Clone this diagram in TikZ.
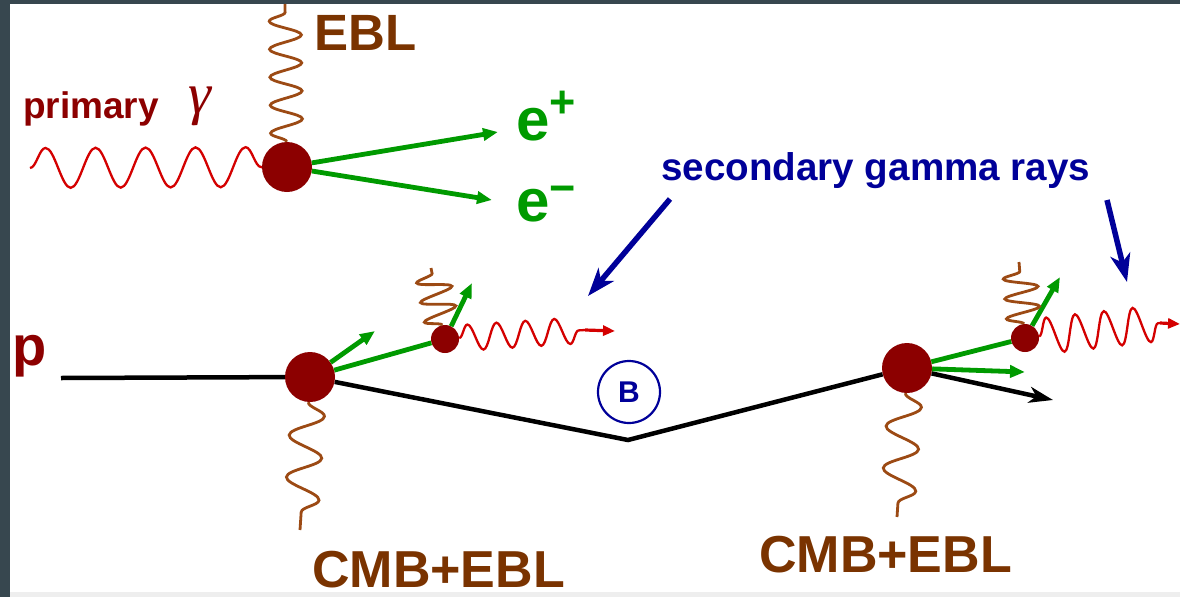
\documentclass[tikz,border=0pt]{standalone}
\usepackage{fontspec}
\setmainfont{Liberation Sans}
\newfontfamily\serifgreek{Liberation Serif}
\usetikzlibrary{decorations.pathmorphing,arrows.meta}

\definecolor{vred}{HTML}{8C0000}
\definecolor{wred}{HTML}{D40000}
\definecolor{wbrown}{HTML}{9C4A14}
\definecolor{lbrown}{HTML}{7A3300}
\definecolor{pgreen}{HTML}{009A00}
\definecolor{pblue}{HTML}{000099}
\definecolor{lred}{HTML}{8C0000}
\definecolor{framec}{HTML}{37474F}
\definecolor{stripc}{HTML}{EEEEEE}

\newcommand{\setfs}[1]{\fontsize{#1}{#1}\selectfont}

\begin{document}
\begin{tikzpicture}[x=1pt,y=-1pt,
  vtx/.style={circle,fill=vred,inner sep=0pt,minimum size=50pt},
  svtx/.style={circle,fill=vred,inner sep=0pt,minimum size=28pt},
  gline/.style={draw=pgreen,line width=4.8pt},
  garrow/.style={gline,-{Triangle[length=15pt,width=12pt]}},
  kline/.style={draw=black,line width=4.5pt},
  karrow/.style={kline,-{Stealth[length=24pt,width=16pt,inset=7pt]}},
  barrow/.style={draw=pblue,line width=5.5pt,-{Stealth[length=28pt,width=20pt,inset=8pt]}},
  rarrow/.style={draw=wred,line width=3.2pt,-{Triangle[length=12pt,width=10pt]}},
  wigred/.style={draw=wred,line width=2.3pt,decorate,decoration={snake,segment length=#1,amplitude=18pt}},
  wigbrown/.style={draw=wbrown,line width=2.8pt,decorate,decoration={snake,segment length=#1,amplitude=17pt}},
  lbl/.style={inner sep=0pt,anchor=base west,font=\bfseries}
]
\fill[framec] (0,0) rectangle (1180,597);
\fill[white] (10,4) rectangle (1180,592);
\fill[stripc] (10,592) rectangle (1180,597);
\useasboundingbox (0,0) rectangle (1180,597);

% vertices
\node[vtx] (v1) at (287,167) {};
\node[vtx] (v2) at (310,377) {};
\node[vtx] (v3) at (907,368) {};
\node[svtx] (s1) at (445,339) {};
\node[svtx] (s2) at (1025,338) {};

% free ends
\coordinate (gstart) at (30,168);
\coordinate (eblend) at (285,4);
\coordinate (epos) at (498,132);
\coordinate (eneg) at (492,200);
\coordinate (pstart) at (61,378);
\coordinate (bend) at (628,440);
\coordinate (kend) at (1053,400);
\coordinate (c2end) at (300,530);
\coordinate (c3end) at (897,517);
\coordinate (g2a) at (375,331);
\coordinate (g1up) at (472,283);
\coordinate (b1top) at (431,268);
\coordinate (r1a) at (585,330);
\coordinate (r1b) at (615,331);
\coordinate (g3h) at (1025,372);
\coordinate (g2up) at (1060,277);
\coordinate (b2top) at (1019,262);
\coordinate (r2a) at (1160,323);
\coordinate (r2b) at (1180,324);
\coordinate (bl1s) at (670,199);
\coordinate (bl1e) at (588,296);
\coordinate (bl2s) at (1107,200);
\coordinate (bl2e) at (1127,282);

% primary gamma + EBL
\draw[wigred=50pt,decoration={amplitude=20pt}] (gstart) -- (v1);
\draw[wigbrown=28pt,decoration={amplitude=16pt}] (v1) -- (eblend);
\draw[garrow] (v1) -- (epos);
\draw[garrow] (v1) -- (eneg);

% proton line
\draw[kline] (pstart) -- (v2);
\draw[kline] (v2) -- (bend) -- (v3);
\draw[karrow] (v3) -- (kend);

% targets
\draw[wigbrown=42pt] (v2) -- (c2end);
\draw[wigbrown=42pt] (v3) -- (c3end);

% first cascade
\draw[gline] (v2) -- (s1);
\draw[garrow] (v2) -- (g2a);
\draw[garrow] (s1) -- (g1up);
\draw[wigbrown=20pt] (s1) -- (b1top);
\draw[wigred=29pt,decoration={amplitude=13pt}] (s1) -- (r1a);
\draw[rarrow] (r1a) -- (r1b);

% second cascade
\draw[gline] (v3) -- (s2);
\draw[garrow] (v3) -- (g3h);
\draw[garrow] (s2) -- (g2up);
\draw[wigbrown=20pt] (s2) -- (b2top);
\draw[wigred=29pt] (s2) -- (r2a);
\draw[rarrow] (r2a) -- (r2b);

% blue pointers
\draw[barrow] (bl1s) -- (bl1e);
\draw[barrow] (bl2s) -- (bl2e);

% B field
\node[circle,draw=pblue,line width=2.2pt,minimum size=62pt,inner sep=0pt,
      text=pblue,font=\bfseries\setfs{30}] (bfield) at (629,392) {B};

% labels
\node[lbl,text=lbrown,font=\bfseries\setfs{51}] (tebl) at (314,50) {EBL};
\node[lbl,text=lred,font=\bfseries\setfs{37}] (tprim) at (23,118) {primary};
\node[lbl,text=lred,font=\serifgreek\itshape\setfs{58}] (tgam) at (188,113) {γ};
\node[lbl,text=pgreen] (tep) at (516,140) {\setfs{60}e\raisebox{23pt}{\setfs{45}+}};
\node[lbl,text=pgreen] (ten) at (516,221) {\setfs{60}e\raisebox{18pt}{\setfs{45}−}};
\node[lbl,text=pblue,font=\bfseries\setfs{38.6}] (tsec) at (661,180) {secondary gamma rays};
\node[lbl,text=lred,font=\bfseries\setfs{56}] (tp) at (12,365) {p};
\node[lbl,text=lbrown,font=\bfseries\setfs{52}] (tcmb1) at (312,587) {CMB+EBL};
\node[lbl,text=lbrown,font=\bfseries\setfs{52}] (tcmb2) at (759,572) {CMB+EBL};
\end{tikzpicture}
\end{document}
